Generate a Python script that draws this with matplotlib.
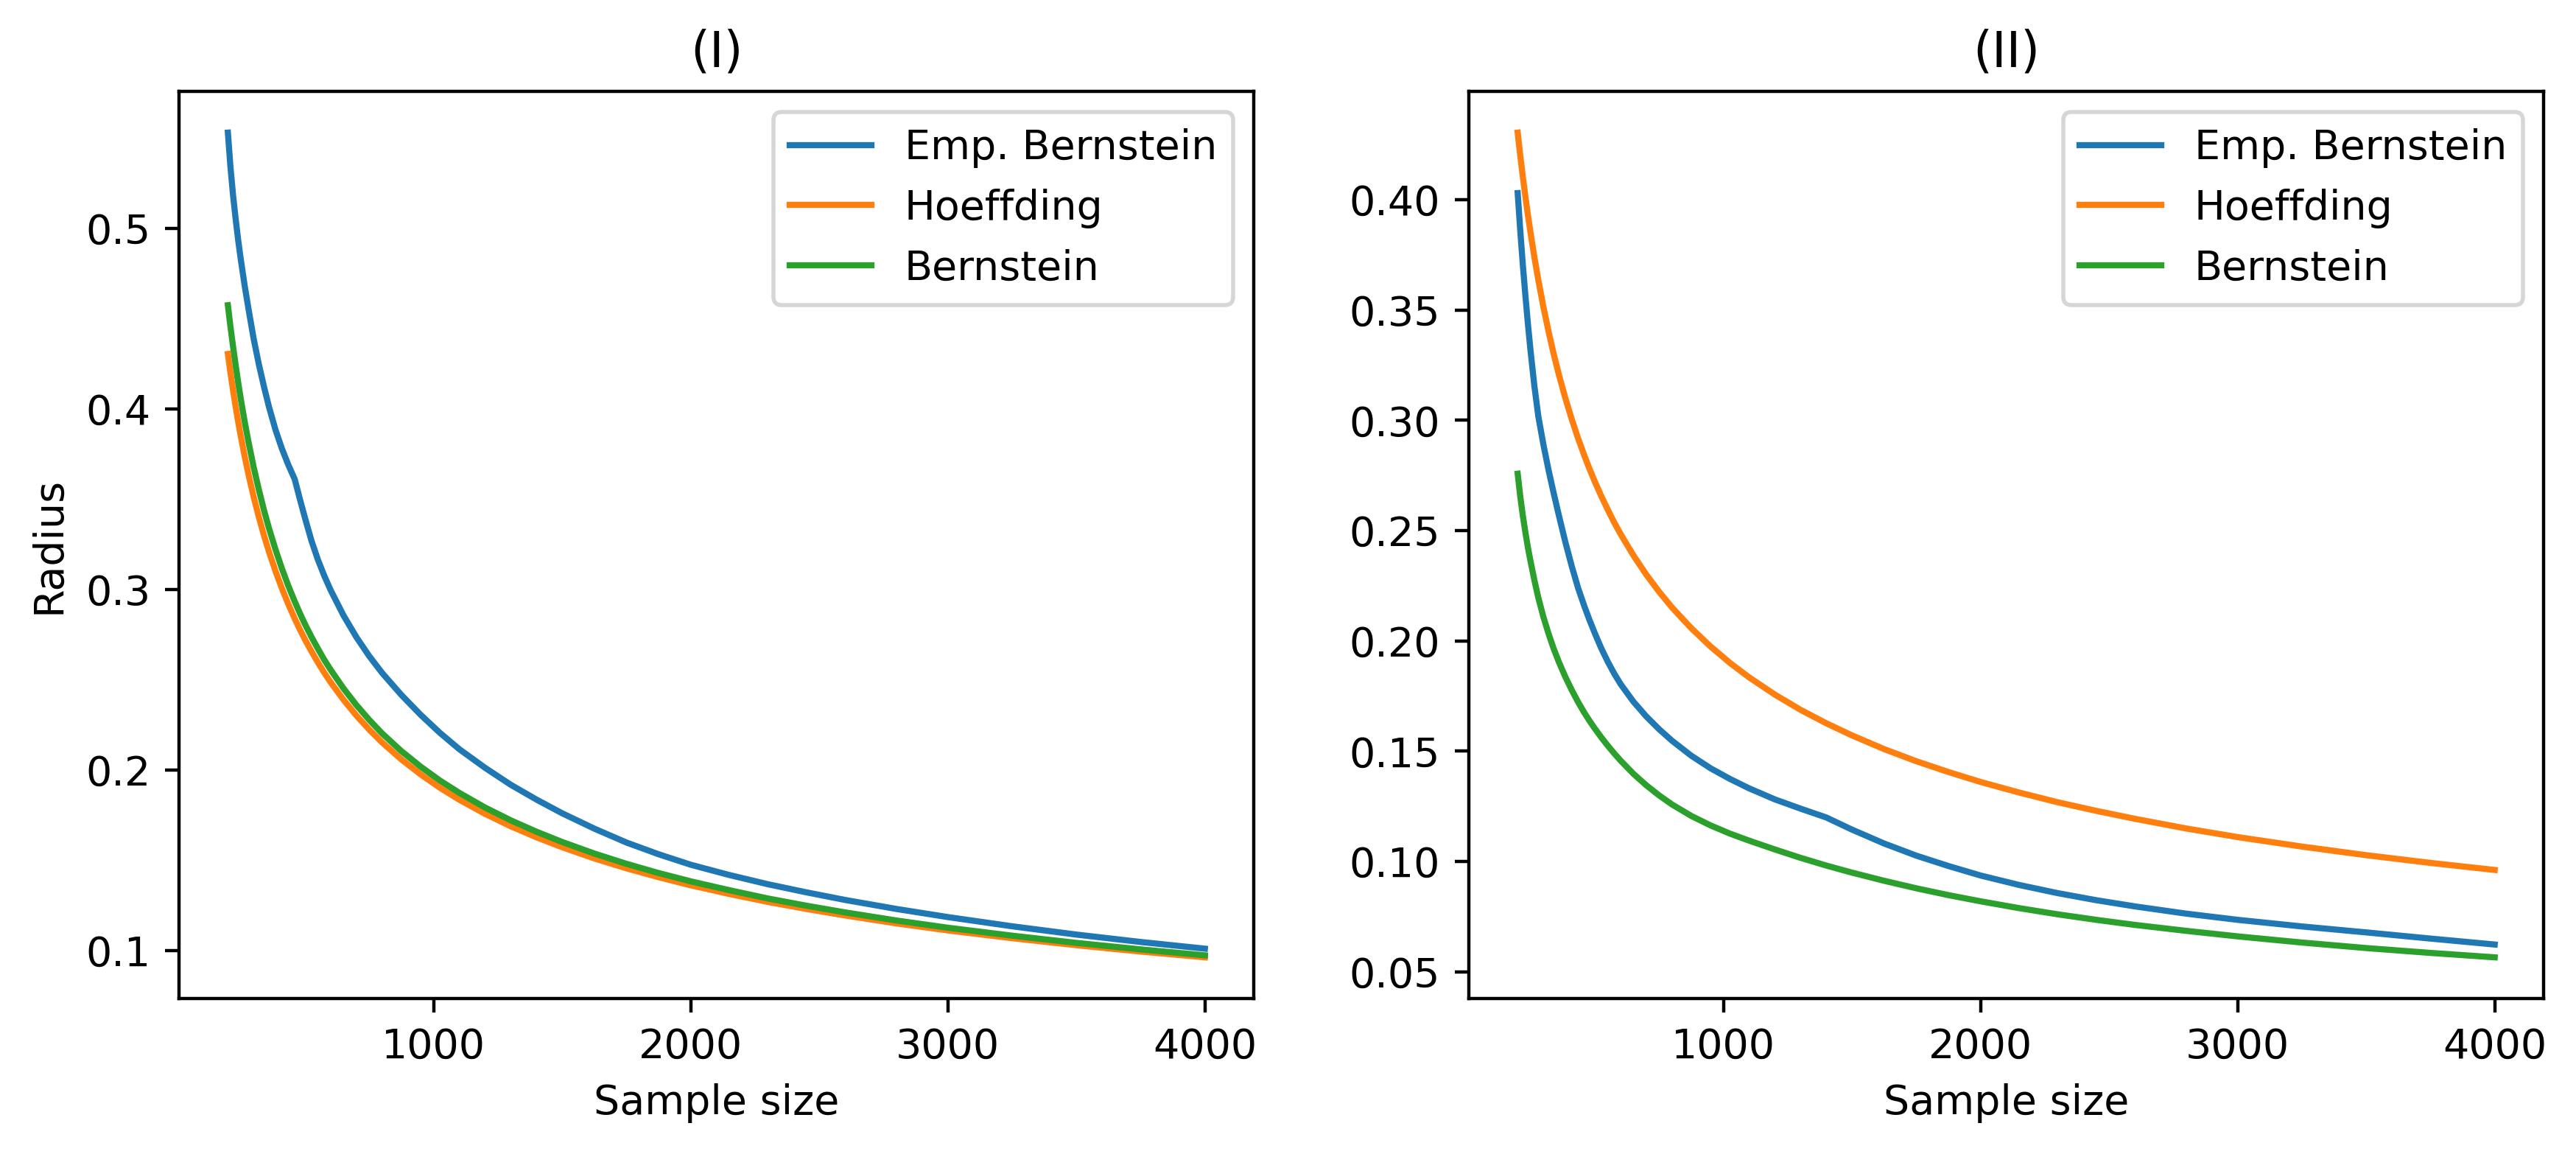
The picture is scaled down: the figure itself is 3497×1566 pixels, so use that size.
import numpy as np
import matplotlib
matplotlib.use("Agg")
import matplotlib.pyplot as plt

#Data (same sample sizes in both)
labels = ["Emp. Bernstein", "Hoeffding", "Bernstein"]
titles = ["(I)", "(II)"]

sample_size = [200, 210, 220, 230, 240, 250, 265, 280, 300, 320, 340, 360, 385, 410,
               435, 460, 480, 500, 525, 550, 575, 600, 650, 700, 750, 800, 875, 950,
               1025, 1100, 1200, 1300, 1400, 1500, 1625, 1750, 1875, 2000, 2150, 2300,
               2450, 2600, 2800, 3000, 3250, 3500, 3750, 4000]

#panel (I)
emp_left = [0.553, 0.534, 0.5185, 0.5055, 0.4935, 0.483, 0.4685, 0.4555, 0.439, 0.425,
            0.4125, 0.401, 0.3885, 0.378, 0.369, 0.361, 0.350, 0.3395, 0.327, 0.3165,
            0.3075, 0.2995, 0.2855, 0.2735, 0.263, 0.2537, 0.2415, 0.2305, 0.2205, 0.2115,
            0.2012, 0.1918, 0.1836, 0.1760, 0.1675, 0.1598, 0.1533, 0.1475, 0.1418, 0.1367,
            0.1322, 0.1280, 0.1230, 0.1185, 0.1134, 0.1088, 0.1047, 0.1010]
hoef_left = [0.4304, 0.4200, 0.4104, 0.4014, 0.3929, 0.3850, 0.3739, 0.3638, 0.3514, 0.3403,
             0.3301, 0.3208, 0.3102, 0.3006, 0.2918, 0.2838, 0.2778, 0.2722, 0.2657, 0.2596,
             0.2538, 0.2485, 0.2388, 0.2301, 0.2223, 0.2152, 0.2058, 0.1975, 0.1901, 0.1835,
             0.1757, 0.1688, 0.1627, 0.1572, 0.1510, 0.1455, 0.1406, 0.1361, 0.1313, 0.1269,
             0.1230, 0.1194, 0.1150, 0.1111, 0.1068, 0.1029, 0.0994, 0.0962]
bern_left = [0.4574, 0.4455, 0.4347, 0.4244, 0.4147, 0.4057, 0.3932, 0.3818, 0.3679, 0.3555,
             0.3441, 0.3338, 0.3222, 0.3116, 0.3020, 0.2933, 0.2868, 0.2807, 0.2737, 0.2672,
             0.2610, 0.2554, 0.2451, 0.2359, 0.2277, 0.2202, 0.2104, 0.2018, 0.1941, 0.1873,
             0.1792, 0.1721, 0.1658, 0.1601, 0.1537, 0.1480, 0.1429, 0.1383, 0.1334, 0.1288,
             0.1248, 0.1211, 0.1166, 0.1126, 0.1082, 0.1042, 0.1006, 0.0973]

#panel (II)
emp_right = [0.403, 0.386, 0.3705, 0.3565, 0.3435, 0.3315, 0.3155, 0.3020, 0.2890, 0.2775,
             0.2670, 0.2570, 0.2450, 0.2340, 0.2240, 0.2155, 0.2093, 0.2035, 0.1967, 0.1907,
             0.1853, 0.1805, 0.1725, 0.1658, 0.1600, 0.1548, 0.1480, 0.1423, 0.1375, 0.1332,
             0.1282, 0.1240, 0.1200, 0.1145, 0.1082, 0.1027, 0.0980, 0.0937, 0.0894, 0.0857,
             0.0825, 0.0797, 0.0764, 0.0736, 0.0706, 0.0679, 0.0651, 0.0624]
hoef_right = hoef_left
bern_right = [0.2758, 0.2655, 0.2568, 0.2492, 0.2422, 0.2361, 0.2275, 0.2197, 0.2109, 0.2033,
              0.1965, 0.1905, 0.1838, 0.1778, 0.1723, 0.1673, 0.1637, 0.1603, 0.1563, 0.1526,
              0.1491, 0.1458, 0.1398, 0.1346, 0.1300, 0.1259, 0.1207, 0.1164, 0.1127, 0.1095,
              0.1055, 0.1017, 0.0982, 0.0950, 0.0913, 0.0879, 0.0848, 0.0820, 0.0789, 0.0761,
              0.0736, 0.0713, 0.0686, 0.0661, 0.0633, 0.0608, 0.0586, 0.0566]

panels = [
    [emp_left, hoef_left, bern_left],
    [emp_right, hoef_right, bern_right],
]

fig = plt.figure(figsize=(3497 / 400, 1566 / 400), dpi=400)
ax1 = fig.add_axes([0.0695, 0.1347, 0.4172, 0.7861])
ax2 = fig.add_axes([0.5702, 0.1347, 0.4172, 0.7861])

for ax, title, series in zip([ax1, ax2], titles, panels):
    for vals, lab in zip(series, labels):
        ax.plot(sample_size, vals, label=lab)
    ax.set_title(title)
    ax.set_xlabel("Sample size")
    ax.set_xticks([1000, 2000, 3000, 4000])
    ax.legend(loc="upper right")

ax1.set_ylabel("Radius")
ax1.set_yticks([0.1, 0.2, 0.3, 0.4, 0.5])

fig.savefig("out.png", dpi=400)
